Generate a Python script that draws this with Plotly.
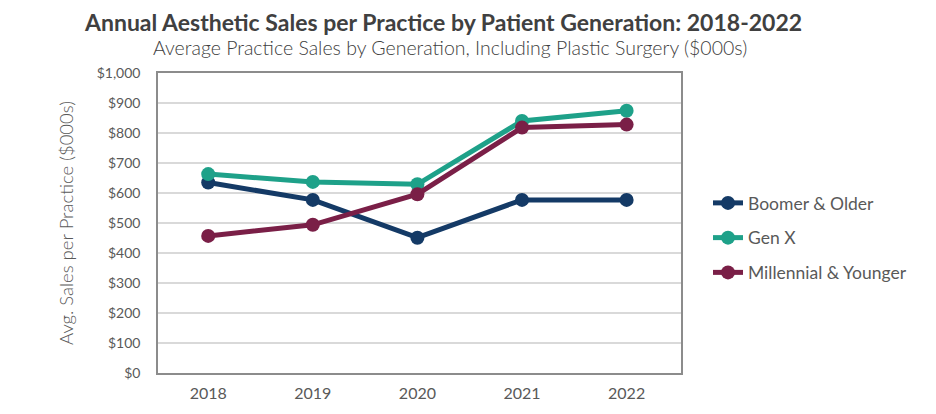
import plotly.graph_objects as go

years = ["2018", "2019", "2020", "2021", "2022"]
boomer = [635, 577, 451, 577, 577]
genx = [663, 637, 629, 840, 874]
millennial = [457, 494, 596, 818, 828]
series_names = ["Boomer & Older", "Gen X", "Millennial & Younger"]
colors = ["#143a66", "#1ea189", "#7a1f47"]
y_ticks = [0, 100, 200, 300, 400, 500, 600, 700, 800, 900, 1000]
y_tick_labels = ["$0", "$100", "$200", "$300", "$400", "$500", "$600", "$700", "$800", "$900", "$1,000"]

W, H = 936, 414
l, r, t, b = 150, 263, 65, 49
pw, ph = W - l - r, H - t - b

def px(x):
    return (x - 8 - l) / pw

def py(y):
    return (H - b - (y - 8)) / ph

fig = go.Figure()
for i, (name, vals) in enumerate(zip(series_names, [boomer, genx, millennial])):
    fig.add_trace(go.Scatter(
        x=years, y=vals, name=name, mode="lines+markers",
        line=dict(color=colors[i], width=5),
        marker=dict(color=colors[i], size=14),
        legendgroup=f"g{i}",
    ))

fig.update_layout(
    width=W, height=H,
    margin=dict(l=l, r=r, t=t, b=b),
    paper_bgcolor="white", plot_bgcolor="white",
    font=dict(family="Lato", color="#595959", size=14),
    showlegend=True,
    legend=dict(x=px(708), y=py(238), xanchor="left", yanchor="middle",
                font=dict(size=17.5, color="#595959"), tracegroupgap=9,
                traceorder="grouped", itemwidth=30),
    annotations=[
        dict(text="<b>Annual Aesthetic Sales per Practice by Patient Generation: 2018-2022</b>",
             x=px(443), y=py(22), xref="paper", yref="paper", showarrow=False,
             xanchor="center", yanchor="middle",
             font=dict(size=23, color="#404040", family="Lato")),
        dict(text="Average Practice Sales by Generation, Including Plastic Surgery ($000s)",
             x=px(450), y=py(47), xref="paper", yref="paper", showarrow=False,
             xanchor="center", yanchor="middle",
             font=dict(size=19.5, color="#404040", family="Lato", weight=300)),
        dict(text="Avg. Sales per Practice ($000s)",
             x=px(66), y=py(223), xref="paper", yref="paper", showarrow=False,
             xanchor="center", yanchor="middle", textangle=-90,
             font=dict(size=18.5, color="#595959", family="Lato", weight=300)),
    ],
)

fig.update_xaxes(type="category", range=[-0.48, 4.52], showgrid=False, showline=True,
                 linecolor="#8c8c8c", linewidth=1.5, mirror=True, ticks="",
                 tickfont=dict(size=16, color="#595959"), ticklabelstandoff=5)
fig.update_yaxes(range=[0, 1000], tickvals=y_ticks, ticktext=y_tick_labels,
                 showgrid=True, gridcolor="#d9d9d9", gridwidth=1.5,
                 showline=True, linecolor="#8c8c8c", linewidth=1.5, mirror=True,
                 zeroline=False, tickfont=dict(size=14, color="#595959"),
                 ticks="", ticklabelstandoff=13)

fig.write_html("out.html")
